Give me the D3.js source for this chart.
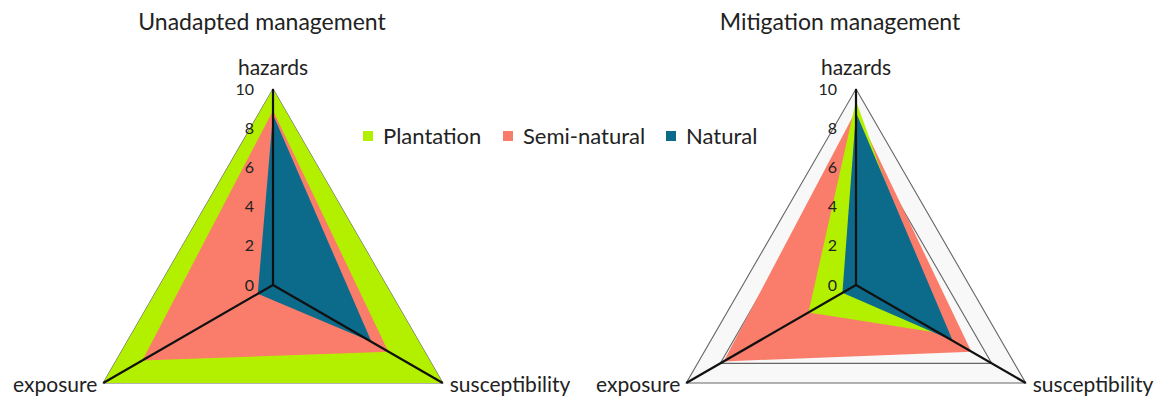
<!DOCTYPE html>
<html>
<head>
<meta charset="utf-8">
<script src="https://cdn.jsdelivr.net/npm/d3@7"></script>
<style>
  body { margin: 0; background: #fff; }
  text { font-family: Lato, "Open Sans", sans-serif; fill: #222; }
</style>
</head>
<body>
<div id="chart"></div>
<script>
// axes of the radar, clockwise from the top
var axes = ["hazards", "susceptibility", "exposure"];
var seriesNames = ["Plantation", "Semi-natural", "Natural"];
var seriesColors = ["#b3f000", "#fa7d6b", "#0c6a8b"];
var tickValues = [0, 2, 4, 6, 8, 10];
var gridLevels = [2, 4, 6, 8, 10];

// values in order [hazards, susceptibility, exposure]
var unadaptedPlantation = [10, 10, 10];
var unadaptedSemiNatural = [8.9, 6.8, 7.7];
var unadaptedNatural = [8.7, 5.8, 0.9];

var mitigationPlantation = [9.4, 4.9, 2.8];
var mitigationSemiNatural = [8.9, 6.8, 7.8];
var mitigationNatural = [8.8, 5.7, 0.8];

var width = 1162, height = 401;

var svg = d3.select("#chart")
        .append("svg")
        .attr("width", width)
        .attr("height", height);

var r = d3.scaleLinear().domain([0, 10]).range([0, 196]);
var angles = [-90, 30, 150].map(function (a) { return a * Math.PI / 180; });

function pt(i, v) {
    return [r(v) * Math.cos(angles[i]), r(v) * Math.sin(angles[i])];
}

var line = d3.line().curve(d3.curveLinearClosed);

function drawRadar(cx, title, titleX, series, order) {
    var g = svg.append("g").attr("transform", "translate(" + cx + ",285)");

    // grid triangles (plot area shading first)
    g.append("path")
            .attr("d", line(axes.map(function (a, i) { return pt(i, 10); })))
            .attr("fill", "#f8f8f8");
    gridLevels.forEach(function (lv) {
        g.append("path")
                .attr("d", line(axes.map(function (a, i) { return pt(i, lv); })))
                .attr("fill", "none")
                .attr("stroke", "#666")
                .attr("stroke-width", 1.1);
    });

    // series areas
    order.forEach(function (k) {
        g.append("path")
                .attr("d", line(series[k].map(function (v, i) { return pt(i, v); })))
                .attr("fill", seriesColors[k]);
    });

    // axis spokes
    axes.forEach(function (a, i) {
        var p = pt(i, 10);
        g.append("line")
                .attr("x1", 0).attr("y1", 0)
                .attr("x2", p[0]).attr("y2", p[1])
                .attr("stroke", "#111")
                .attr("stroke-width", 2.2);
    });

    // tick labels along the hazards axis
    g.selectAll("text.tick")
            .data(tickValues)
            .enter()
            .append("text")
            .attr("class", "tick")
            .attr("x", -19)
            .attr("y", function (d) { return -r(d); })
            .attr("dy", "0.35em")
            .attr("text-anchor", "end")
            .style("font-size", "16px")
            .text(function (d) { return d; });

    // axis labels
    var hz = pt(0, 10);
    g.append("text").attr("x", hz[0]).attr("y", hz[1] - 14)
            .attr("text-anchor", "middle").style("font-size", "21px").text(axes[0]);
    var su = pt(1, 10);
    g.append("text").attr("x", su[0] + 7).attr("y", su[1] + 9)
            .attr("text-anchor", "start").style("font-size", "21px").text(axes[1]);
    var ex = pt(2, 10);
    g.append("text").attr("x", ex[0] - 6).attr("y", ex[1] + 9)
            .attr("text-anchor", "end").style("font-size", "21px").text(axes[2]);

    // title
    svg.append("text")
            .attr("x", titleX).attr("y", 30)
            .attr("text-anchor", "middle")
            .style("font-size", "23px")
            .text(title);
}

drawRadar(273, "Unadapted management", 262,
        [unadaptedPlantation, unadaptedSemiNatural, unadaptedNatural], [0, 1, 2]);
drawRadar(856, "Mitigation management", 840,
        [mitigationPlantation, mitigationSemiNatural, mitigationNatural], [1, 0, 2]);

// legend
var legendX = [363, 503, 666];
var legend = svg.append("g").attr("class", "legend");
seriesNames.forEach(function (name, i) {
    legend.append("rect")
            .attr("x", legendX[i]).attr("y", 131)
            .attr("width", 10).attr("height", 10)
            .attr("fill", seriesColors[i]);
    legend.append("text")
            .attr("x", legendX[i] + 20).attr("y", 136)
            .attr("dy", "0.35em")
            .style("font-size", "22px")
            .text(name);
});
</script>
</body>
</html>
